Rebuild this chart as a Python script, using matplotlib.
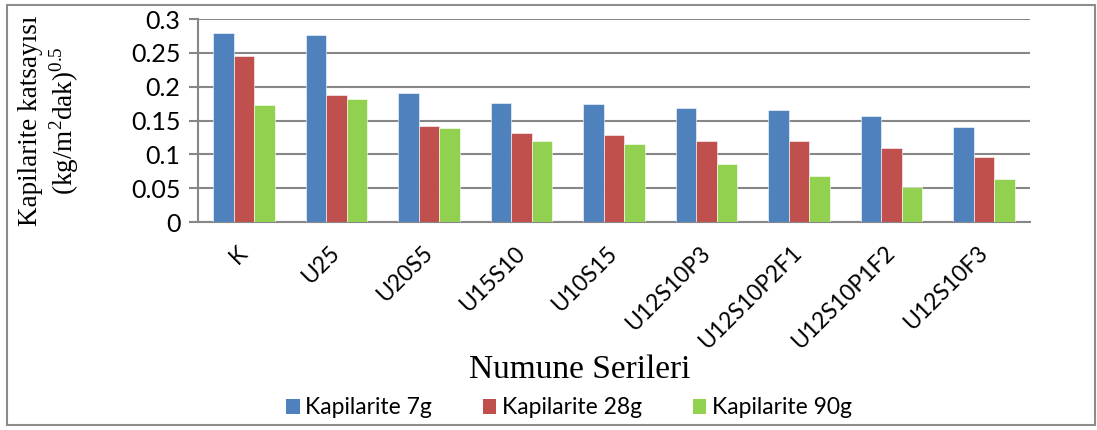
import numpy as np
import matplotlib
matplotlib.use("Agg")
import matplotlib.pyplot as plt
from matplotlib.patches import Patch, Rectangle

# ─── DATA ────────────────────────────────────────────────────────────────────
categories = ["K", "U25", "U20S5", "U15S10", "U10S15",
              "U12S10P3", "U12S10P2F1", "U12S10P1F2", "U12S10F3"]
kap_7g  = [0.279, 0.276, 0.190, 0.176, 0.174, 0.168, 0.166, 0.156, 0.140]
kap_28g = [0.245, 0.188, 0.142, 0.132, 0.129, 0.120, 0.119, 0.109, 0.096]
kap_90g = [0.173, 0.182, 0.139, 0.120, 0.115, 0.085, 0.068, 0.051, 0.064]
series_labels = ["Kapilarite 7g", "Kapilarite 28g", "Kapilarite 90g"]
yticks = [0, 0.05, 0.1, 0.15, 0.2, 0.25, 0.3]
ytick_labels = ["0", "0.05", "0.1", "0.15", "0.2", "0.25", "0.3"]

# ─── STYLE ───────────────────────────────────────────────────────────────────
COLORS = ["#4F81BD", "#C0504D", "#92D050"]
GRID   = "#878787"
SANS   = "Lato"
SERIF  = "Liberation Serif"

plt.rcParams["font.family"] = [SANS, "DejaVu Sans"]
plt.rcParams["mathtext.fontset"] = "custom"
plt.rcParams["mathtext.rm"] = SERIF

fig = plt.figure(figsize=(10.97, 4.30), dpi=100, facecolor="white")
ax = fig.add_axes([0.1802, 0.4837, 0.939 - 0.1802, 0.9558 - 0.4837])

x = np.arange(len(categories))
w = 0.222
for i, vals in enumerate([kap_7g, kap_28g, kap_90g]):
    ax.bar(x + (i - 1) * w, vals, width=w, color=COLORS[i],
           edgecolor="white", linewidth=0.4, zorder=3)

ax.set_xlim(-0.5, len(categories) - 0.5)
ax.set_ylim(0, 0.3)
ax.set_yticks(yticks)
ax.set_yticklabels(ytick_labels, fontsize=18)
ax.yaxis.grid(True, color=GRID, linewidth=1.5, zorder=0)
ax.set_axisbelow(True)

for side in ["top", "right"]:
    ax.spines[side].set_visible(False)
for side in ["left", "bottom"]:
    ax.spines[side].set_color(GRID)
    ax.spines[side].set_linewidth(1.5)
ax.tick_params(axis="y", length=6.8, width=1.5, color=GRID, pad=5.5)

ax.set_xticks(x)
ax.set_xticklabels(categories, fontsize=16.5, rotation=45,
                   ha="right", va="center", rotation_mode="anchor")
ax.tick_params(axis="x", length=0, pad=20)

ax.set_ylabel("Kapilarite katsayısı\n" + r"(kg/m$^{2}$dak)$^{0.5}$",
              family=SERIF, fontsize=19.5, linespacing=1.15)
ax.yaxis.set_label_coords(-0.14, 0.5)

fig.text(580 / 1097, 1 - 370 / 430, "Numune Serileri", family=SERIF,
         fontsize=24, ha="center", va="center")

handles = [Patch(facecolor=c, edgecolor="none") for c in COLORS]
fig.legend(handles, series_labels, loc="center", ncol=3,
           bbox_to_anchor=(569 / 1097, 1 - 408 / 430), frameon=False,
           fontsize=16.5, handlelength=0.6, handleheight=0.6,
           handletextpad=0.25, columnspacing=2.2)

# outer chart frame
fig.patches.append(Rectangle((7 / 1097, 5 / 430), 1088 / 1097, 420 / 430,
                             transform=fig.transFigure, fill=False,
                             edgecolor="#8c8c8c", linewidth=1.5))

fig.savefig("out.png", dpi=100, facecolor="white")
